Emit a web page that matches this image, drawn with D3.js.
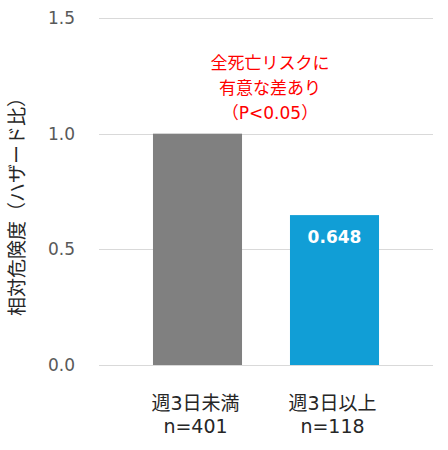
<!DOCTYPE html>
<html>
<head>
<meta charset="utf-8">
<script src="https://cdn.jsdelivr.net/npm/d3@7"></script>
<style>
  body { margin: 0; background: #ffffff; }
  svg { display: block; }
</style>
</head>
<body>
<div id="chart"></div>
<script>
// chart data
const categories = ["週3日未満", "週3日以上"];
const sampleSizes = ["n=401", "n=118"];
const hazardRatios = [1.0, 0.648];
const valueLabels = ["", "0.648"];
const barColors = ["#808080", "#119ED6"];
const yTicks = [0.0, 0.5, 1.0, 1.5];
const noteLines = ["全死亡リスクに", "有意な差あり", "（P<0.05）"];
const yTitle = "相対危険度（ハザード比）";

const W = 448, H = 450;
const gridLeft = 99, gridRight = 433;
// latin glyphs from DejaVu (verdana-like), kana/kanji fall back to Noto CJK
const jpFont = "'DejaVu Sans', 'Noto Sans CJK JP', sans-serif";
const numFont = "'DejaVu Sans', Verdana, sans-serif";

const svg = d3.select("#chart").append("svg")
    .attr("width", W)
    .attr("height", H);

const y = d3.scaleLinear().domain([0, 1.5]).range([365, 18]);
const x = d3.scaleBand().domain(categories).range([129, 403])
    .paddingInner(0.35)
    .paddingOuter(0.175);

// gridlines
svg.append("g")
  .selectAll("line")
  .data(yTicks)
  .enter()
    .append("line")
      .attr("x1", gridLeft)
      .attr("x2", gridRight)
      .attr("y1", d => Math.round(y(d)) + 0.5)
      .attr("y2", d => Math.round(y(d)) + 0.5)
      .attr("stroke", "#d9d9d9")
      .attr("stroke-width", 1);

// y tick labels
svg.append("g")
  .selectAll("text")
  .data(yTicks)
  .enter()
    .append("text")
      .attr("x", 75)
      .attr("y", d => y(d) + 6)
      .attr("text-anchor", "end")
      .style("font-family", numFont)
      .style("font-size", "17px")
      .attr("fill", "#595959")
      .text(d => d3.format(".1f")(d));

// bars
svg.append("g")
  .selectAll("rect")
  .data(hazardRatios)
  .enter()
    .append("rect")
      .attr("x", (d, i) => x(categories[i]))
      .attr("y", d => y(d))
      .attr("width", x.bandwidth())
      .attr("height", d => y(0) - y(d))
      .attr("fill", (d, i) => barColors[i]);

// value label inside the blue bar
svg.append("g")
  .selectAll("text")
  .data(hazardRatios)
  .enter()
    .append("text")
      .attr("x", (d, i) => x(categories[i]) + x.bandwidth() / 2)
      .attr("y", d => y(d) + 28)
      .attr("text-anchor", "middle")
      .style("font-family", numFont)
      .style("font-size", "17px")
      .style("font-weight", "bold")
      .attr("fill", "#ffffff")
      .text((d, i) => valueLabels[i]);

// category labels (two lines)
const catG = svg.append("g")
  .selectAll("text")
  .data(categories)
  .enter()
    .append("text")
      .attr("text-anchor", "middle")
      .style("font-family", jpFont)
      .style("font-size", "19px")
      .attr("fill", "#262626");

catG.append("tspan")
    .attr("x", d => x(d) + x.bandwidth() / 2 - 2)
    .attr("y", 410)
    .text(d => d);
catG.append("tspan")
    .attr("x", d => x(d) + x.bandwidth() / 2 - 2)
    .attr("y", 433)
    .text((d, i) => sampleSizes[i]);

// red significance note
svg.append("g")
  .selectAll("text")
  .data(noteLines)
  .enter()
    .append("text")
      .attr("x", 270)
      .attr("y", (d, i) => 69 + i * 25)
      .attr("text-anchor", "middle")
      .style("font-family", jpFont)
      .style("font-size", "17px")
      .attr("fill", "#ff0000")
      .text(d => d);

// y axis title
svg.append("text")
    .attr("transform", "translate(24,202) rotate(-90)")
    .attr("text-anchor", "middle")
    .style("font-family", jpFont)
    .style("font-size", "19px")
    .attr("fill", "#262626")
    .text(yTitle);
</script>
</body>
</html>
